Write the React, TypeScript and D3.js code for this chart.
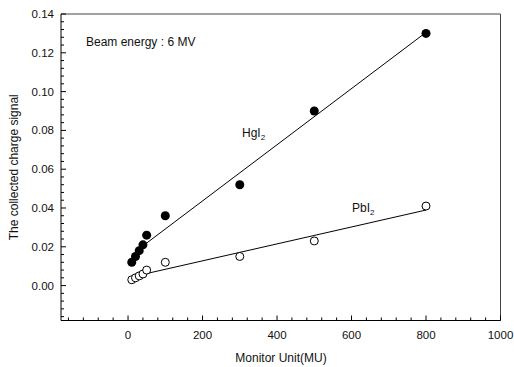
import React from "react";
import * as d3 from "d3";

const muValues = [10, 20, 30, 40, 50, 100, 300, 500, 800];
const hgi2Signal = [0.012, 0.015, 0.018, 0.021, 0.026, 0.036, 0.052, 0.09, 0.13];
const pbi2Signal = [0.003, 0.004, 0.005, 0.006, 0.008, 0.012, 0.015, 0.023, 0.041];
const xMajorTicks = [0, 200, 400, 600, 800, 1000];
const yMajorTicks = [0, 0.02, 0.04, 0.06, 0.08, 0.1, 0.12, 0.14];
const fitRange = [45, 800];

const W = 514;
const H = 367;
const left = 61;
const right = 500.5;
const top = 14;
const bottom = 320.5;

function fit(xs: number[], ys: number[]) {
  const mx = d3.mean(xs)!;
  const my = d3.mean(ys)!;
  let sxy = 0;
  let sxx = 0;
  xs.forEach((x, i) => {
    sxy += (x - mx) * (ys[i] - my);
    sxx += (x - mx) * (x - mx);
  });
  const b = sxy / sxx;
  const a = my - b * mx;
  return (x: number) => a + b * x;
}

export default function App() {
  const x = d3.scaleLinear().domain([-180, 1000]).range([left, right]);
  const y = d3.scaleLinear().domain([-0.018, 0.14]).range([bottom, top]);
  const font = "'Liberation Sans', Arial, sans-serif";

  const xMinor = d3.range(-160, 1001, 40).filter((v) => !xMajorTicks.includes(v));
  const yMinor = d3
    .range(-16, 141, 4)
    .map((v) => v / 1000)
    .filter((v) => !yMajorTicks.some((m) => Math.abs(m - v) < 1e-9));

  const hgFit = fit(muValues, hgi2Signal);
  const pbFit = fit(muValues, pbi2Signal);
  const fitPath = (f: (v: number) => number) =>
    d3
      .line<number>()
      .x((d) => x(d))
      .y((d) => y(f(d)))(fitRange) as string;

  return (
    <svg
      width={W}
      height={H}
      style={{ position: "absolute", left: 0, top: 0, background: "#fff" }}
      fontFamily={font}
    >
      <rect x={0} y={0} width={W} height={H} fill="#fff" />
      {/* frame */}
      <line x1={left} x2={right} y1={top} y2={top} stroke="#444" strokeWidth={1} />
      <line x1={right} x2={right} y1={top} y2={bottom} stroke="#444" strokeWidth={1} />
      <line x1={left} x2={left} y1={top} y2={bottom} stroke="#000" strokeWidth={1} />
      <line x1={left} x2={right} y1={bottom} y2={bottom} stroke="#000" strokeWidth={1} />

      {/* x ticks */}
      {xMajorTicks.map((t) => (
        <g key={"xm" + t}>
          <line x1={x(t)} x2={x(t)} y1={bottom} y2={bottom - 5} stroke="#000" />
          <text x={x(t)} y={339} fontSize={11.5} textAnchor="middle" fill="#111">
            {t}
          </text>
        </g>
      ))}
      {xMinor.map((t) => (
        <line key={"xn" + t} x1={x(t)} x2={x(t)} y1={bottom} y2={bottom - 3} stroke="#000" />
      ))}

      {/* y ticks */}
      {yMajorTicks.map((t) => (
        <g key={"ym" + t}>
          <line x1={left} x2={left + 5} y1={y(t)} y2={y(t)} stroke="#000" />
          <text x={54} y={y(t) + 4} fontSize={11.5} textAnchor="end" fill="#111">
            {t.toFixed(2)}
          </text>
        </g>
      ))}
      {yMinor.map((t) => (
        <line key={"yn" + t} x1={left} x2={left + 3} y1={y(t)} y2={y(t)} stroke="#000" />
      ))}

      {/* fit lines */}
      <path d={fitPath(hgFit)} fill="none" stroke="#000" strokeWidth={1} />
      <path d={fitPath(pbFit)} fill="none" stroke="#000" strokeWidth={1} />

      {/* markers */}
      {muValues.map((m, i) => (
        <circle key={"hg" + i} cx={x(m)} cy={y(hgi2Signal[i])} r={4.5} fill="#000" />
      ))}
      {muValues.map((m, i) => (
        <circle
          key={"pb" + i}
          cx={x(m)}
          cy={y(pbi2Signal[i])}
          r={4}
          fill="#fff"
          stroke="#000"
          strokeWidth={1}
        />
      ))}

      {/* annotations */}
      <text x={86} y={46} fontSize={12} fill="#111">
        Beam energy : 6 MV
      </text>
      <text x={242} y={137} fontSize={12} fill="#111">
        HgI<tspan fontSize={8} dy={3}>2</tspan>
      </text>
      <text x={352} y={212} fontSize={12} fill="#111">
        PbI<tspan fontSize={8} dy={3}>2</tspan>
      </text>

      {/* axis titles */}
      <text x={281} y={362} fontSize={12} textAnchor="middle" fill="#111">
        Monitor Unit(MU)
      </text>
      <text
        transform={`translate(18, ${(top + bottom) / 2}) rotate(-90)`}
        fontSize={12}
        textAnchor="middle"
        fill="#111"
      >
        The collected charge signal
      </text>
    </svg>
  );
}
